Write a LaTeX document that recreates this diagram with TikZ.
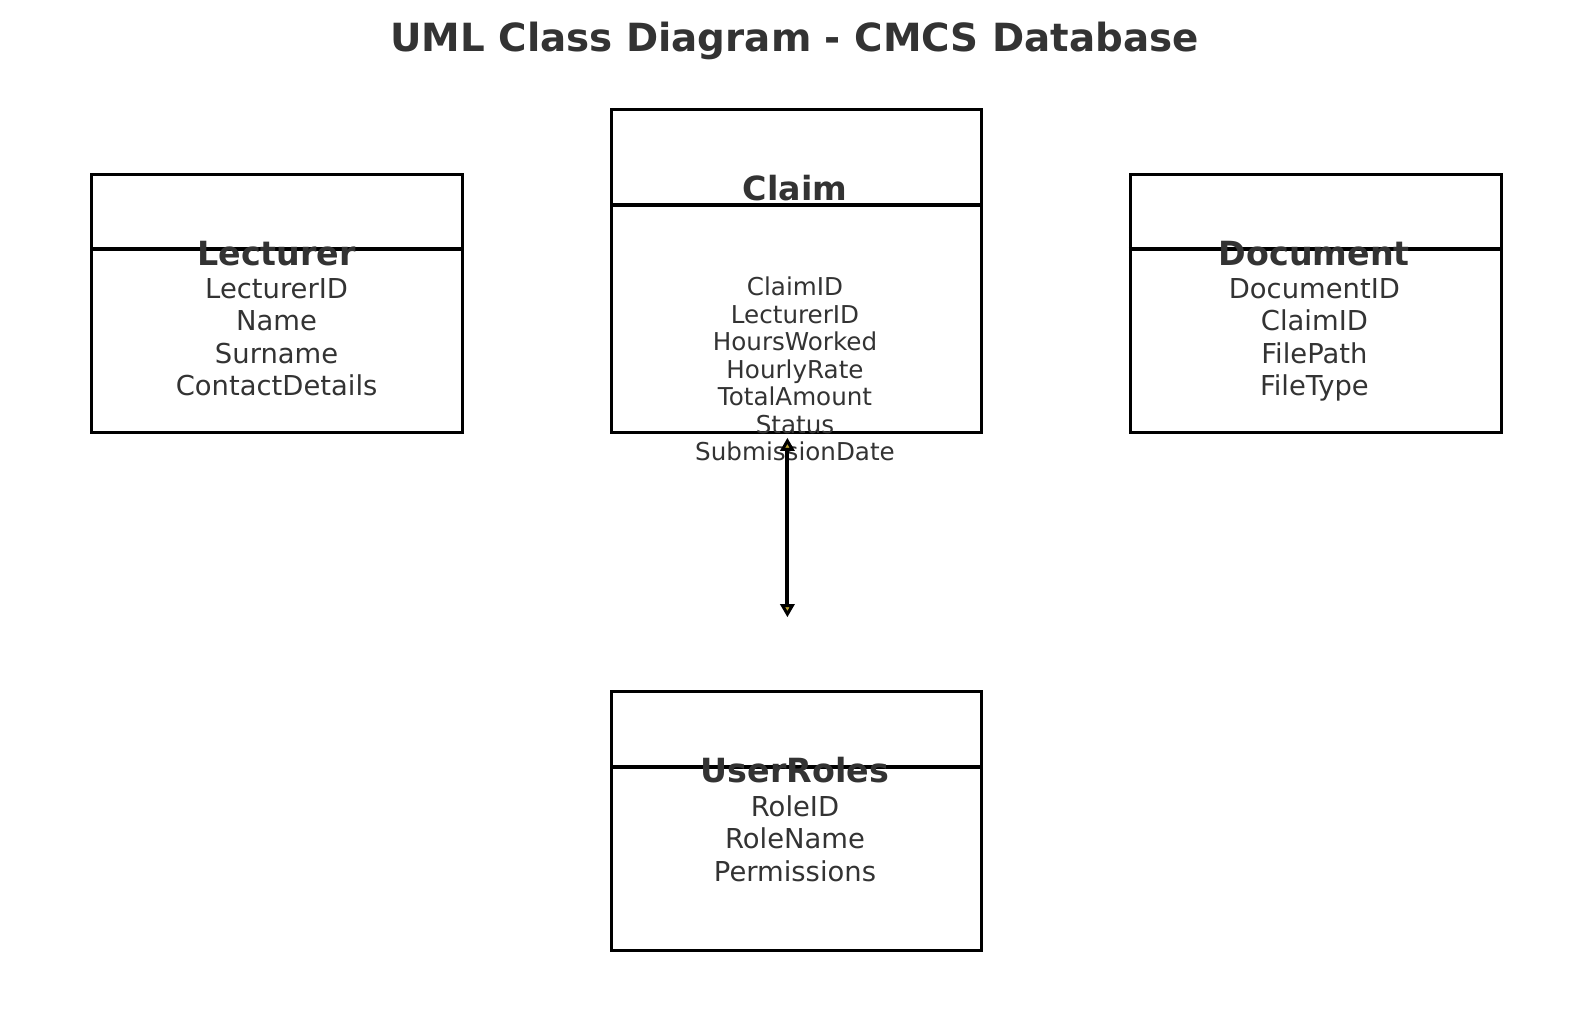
\documentclass[tikz,border=0pt]{standalone}
\usepackage{fontspec}
\setmainfont{DejaVu Sans}
\usetikzlibrary{arrows.meta}
\definecolor{txt}{HTML}{333333}
\definecolor{tipfill}{HTML}{B8A030}
\begin{document}
\begin{tikzpicture}[x=1pt,y=-1pt,
 classbox/.style={draw=black,line width=3pt,inner sep=0pt,anchor=north west},
 divider/.style={draw=black,line width=4pt},
 cname/.style={anchor=base,inner sep=0pt,text=txt,font=\fontsize{33.3}{40}\selectfont\bfseries},
 attr/.style={anchor=base,inner sep=0pt,text=txt,font=\fontsize{27.4}{32}\selectfont},
 sattr/.style={anchor=base,inner sep=0pt,text=txt,font=\fontsize{24.6}{27.5}\selectfont},
 link/.style={draw=black,line width=4pt,
   {Triangle[width=14pt,length=13pt,fill=tipfill,line width=3pt]}-{Triangle[width=14pt,length=13pt,fill=tipfill,line width=3pt]}}
 ]
\useasboundingbox (0,0) rectangle (1589,1010);

% title
\node[anchor=base,inner sep=0pt,text=txt,font=\fontsize{38.8}{46}\selectfont\bfseries] (title) at (794.5,51.7) {UML Class Diagram - CMCS Database};

% boxes
\node[classbox,minimum width=370.9pt,minimum height=257.4pt] (lecturer) at (90.2,173.3) {};
\node[classbox,minimum width=369.9pt,minimum height=322.3pt] (claim) at (610.1,108.4) {};
\node[classbox,minimum width=370.9pt,minimum height=257.4pt] (document) at (1128.9,173.3) {};
\node[classbox,minimum width=369.9pt,minimum height=258.5pt] (userroles) at (610.1,690.1) {};

% dividers
\draw[divider] (lecturer.west |- 0,249.3) -- (lecturer.east |- 0,249.3);
\draw[divider] (claim.west |- 0,204.7) -- (claim.east |- 0,204.7);
\draw[divider] (document.west |- 0,249.3) -- (document.east |- 0,249.3);
\draw[divider] (userroles.west |- 0,767.1) -- (userroles.east |- 0,767.1);

% class names
\node[cname] (lecturer-name) at (276.6,265) {Lecturer};
\node[cname] (claim-name) at (795,200) {Claim};
\node[cname] (document-name) at (1314.4,265) {Document};
\node[cname] (userroles-name) at (795,782) {UserRoles};

% attributes
\foreach \t [count=\i] in {LecturerID,Name,Surname,ContactDetails}
  \node[attr] (lecturer-a\i) at (276.6,298.3+32.4*\i-32.4) {\t};
\foreach \t [count=\i] in {ClaimID,LecturerID,HoursWorked,HourlyRate,TotalAmount,Status,SubmissionDate}
  \node[sattr] (claim-a\i) at (795,295.5+27.5*\i-27.5) {\t};
\foreach \t [count=\i] in {DocumentID,ClaimID,FilePath,FileType}
  \node[attr] (document-a\i) at (1314.4,298.3+32.4*\i-32.4) {\t};
\foreach \t [count=\i] in {RoleID,RoleName,Permissions}
  \node[attr] (userroles-a\i) at (795,816.4+32.4*\i-32.4) {\t};

% connector
\coordinate (arrtop) at (787.4,437.8);
\coordinate (arrbot) at (787.4,617.2);
\draw[link] (arrtop) -- (arrbot);
\end{tikzpicture}
\end{document}
